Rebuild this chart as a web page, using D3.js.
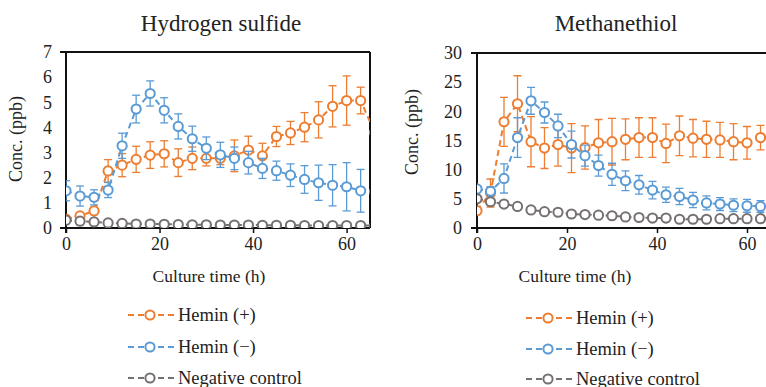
<!DOCTYPE html>
<html>
<head>
<meta charset="utf-8">
<script src="https://cdn.jsdelivr.net/npm/d3@7"></script>
<style>
  body { margin: 0; background: #fff; }
  svg { display: block; }
  svg text { font-family: "Liberation Serif", "Times New Roman", Times, "DejaVu Serif", serif; }
</style>
</head>
<body>
<svg id="chart" width="766" height="387"></svg>
<script>
// Sampling times (h)
const hoursH2S = [0, 3, 6, 9, 12, 15, 18, 21, 24, 27, 30, 33, 36, 39, 42, 45, 48, 51, 54, 57, 60, 63, 66];
const hoursMT = [0, 3, 6, 9, 12, 15, 18, 21, 24, 27, 30, 33, 36, 39, 42, 45, 48, 51, 54, 57, 60, 63];

// Hydrogen sulfide (ppb)
const h2sHeminPlus = [0.35, 0.48, 0.68, 2.27, 2.5, 2.73, 2.9, 2.95, 2.6, 2.77, 2.77, 2.77, 2.87, 3.1, 2.87, 3.64, 3.78, 4.01, 4.3, 4.84, 5.07, 5.07, 3.8];
const h2sHeminPlusErr = [0.1, 0.1, 0.15, 0.45, 0.46, 0.52, 0.53, 0.52, 0.55, 0.45, 0.3, 0.25, 0.63, 0.55, 0.5, 0.4, 0.46, 0.58, 0.72, 0.82, 0.98, 0.53, 0.5];
const h2sHeminMinus = [1.48, 1.27, 1.22, 1.51, 3.27, 4.73, 5.35, 4.68, 4.04, 3.55, 3.17, 2.91, 2.77, 2.6, 2.37, 2.28, 2.1, 1.93, 1.8, 1.7, 1.64, 1.48, 1.45];
const h2sHeminMinusErr = [0.4, 0.4, 0.3, 0.3, 0.5, 0.55, 0.5, 0.5, 0.5, 0.5, 0.45, 0.5, 0.45, 0.45, 0.4, 0.38, 0.45, 0.55, 0.7, 0.82, 0.96, 0.85, 0.8];
const h2sControl = [0.31, 0.27, 0.24, 0.2, 0.18, 0.16, 0.16, 0.15, 0.14, 0.13, 0.13, 0.12, 0.12, 0.12, 0.11, 0.11, 0.11, 0.1, 0.1, 0.1, 0.1, 0.1, 0.1];

// Methanethiol (ppb)
const mtHeminPlus = [2.97, 6.0, 18.2, 21.3, 14.8, 13.7, 14.3, 13.7, 13.8, 14.6, 14.8, 15.2, 15.5, 15.5, 14.5, 15.8, 15.4, 15.2, 15.1, 14.8, 14.6, 15.5];
const mtHeminPlusErr = [0.5, 2.4, 4.2, 4.8, 4.3, 3.5, 3.7, 4.2, 3.7, 4, 4, 3.5, 3.4, 3.4, 3.3, 3.4, 3.2, 3.1, 3.0, 3.1, 2.8, 2.1];
const mtHeminMinus = [6.7, 6.3, 8.5, 15.5, 21.8, 19.8, 17.5, 14.3, 12.4, 10.7, 9.2, 8.1, 7.4, 6.5, 5.7, 5.4, 4.8, 4.3, 4.1, 3.9, 3.8, 3.7];
const mtHeminMinusErr = [0.3, 0.8, 2.5, 3.4, 2.3, 1.8, 2, 2.3, 1.8, 1.8, 1.9, 1.7, 1.6, 1.5, 1.3, 1.4, 1.3, 1.2, 1.1, 1.1, 1.1, 1];
const mtControl = [5.0, 4.5, 4.1, 3.7, 3.1, 2.8, 2.7, 2.4, 2.3, 2.2, 2.1, 1.9, 1.8, 1.7, 1.7, 1.5, 1.5, 1.5, 1.6, 1.6, 1.6, 1.6];

const seriesNames = ['Hemin (+)', 'Hemin (\u2212)', 'Negative control'];
const seriesColors = ['#ED7D31', '#5B9BD5', '#767171'];
const xTicks = [0, 20, 40, 60];

const svg = d3.select('#chart');

// Build one panel
function drawPanel(opt) {
  const x = d3.scaleLinear().domain([0, 65]).range([opt.left, opt.right]);
  const y = d3.scaleLinear().domain([0, opt.yMax]).range([opt.bottom, opt.top]);
  const g = svg.append('g');

  g.append('clipPath').attr('id', opt.id + '-clip')
    .append('rect')
    .attr('x', opt.left).attr('y', opt.top - 10)
    .attr('width', opt.right - opt.left).attr('height', opt.bottom - opt.top + 10);

  // Title
  g.append('text')
    .attr('x', opt.titleX).attr('y', 31)
    .attr('text-anchor', 'middle')
    .attr('font-size', '23px')
    .attr('fill', '#222')
    .text(opt.title);

  // Y axis (labels only, no ticks)
  g.append('g')
    .attr('transform', `translate(${opt.left},0)`)
    .call(d3.axisLeft(y).tickValues(d3.range(0, opt.yMax + 0.001, opt.yStep))
      .tickFormat(d3.format('d')).tickSize(0).tickPadding(opt.yPad))
    .call(a => a.select('.domain').remove())
    .selectAll('text')
    .attr('font-size', '18px')
    .attr('fill', '#222');

  // X axis
  g.append('g')
    .attr('transform', `translate(0,${opt.bottom})`)
    .call(d3.axisBottom(x).tickValues(xTicks).tickFormat(d3.format('d'))
      .tickSize(5).tickPadding(4).tickSizeOuter(0))
    .call(a => a.select('.domain').remove())
    .call(a => a.selectAll('line').attr('stroke', '#111').attr('stroke-width', 1.5))
    .selectAll('text')
    .attr('font-size', '18px')
    .attr('fill', '#222');

  // Frame lines
  g.append('line').attr('x1', opt.left - 6).attr('x2', opt.right)
    .attr('y1', opt.top).attr('y2', opt.top)
    .attr('stroke', '#111').attr('stroke-width', 2);
  g.append('line').attr('x1', opt.left - 6).attr('x2', opt.right)
    .attr('y1', opt.bottom).attr('y2', opt.bottom)
    .attr('stroke', '#111').attr('stroke-width', 2);
  g.append('line').attr('x1', opt.left).attr('x2', opt.left)
    .attr('y1', opt.top).attr('y2', opt.bottom + 5)
    .attr('stroke', '#111').attr('stroke-width', 2);
  if (opt.rightBorder) {
    g.append('line').attr('x1', opt.right).attr('x2', opt.right)
      .attr('y1', opt.top).attr('y2', opt.bottom)
      .attr('stroke', '#111').attr('stroke-width', 2);
  }

  // Axis titles
  g.append('text')
    .attr('transform', `translate(${opt.yLabelX},${opt.yLabelY}) rotate(-90)`)
    .attr('text-anchor', 'middle')
    .attr('font-size', '18px')
    .attr('fill', '#222')
    .text('Conc. (ppb)');
  g.append('text')
    .attr('x', opt.xLabelX).attr('y', 282)
    .attr('text-anchor', 'middle')
    .attr('font-size', '17.5px')
    .attr('fill', '#222')
    .text('Culture time (h)');

  // Series
  const plot = g.append('g').attr('clip-path', `url(#${opt.id}-clip)`);
  const line = d3.line().x(d => x(d.t)).y(d => y(d.v));

  opt.series.forEach((s, si) => {
    const pts = opt.hours.map((t, i) => ({ t, v: s.values[i], e: s.errors ? s.errors[i] : 0 }));
    const sg = plot.append('g');
    const color = seriesColors[si];

    if (s.errors) {
      const eb = sg.selectAll('.err').data(pts).enter().append('g')
        .attr('stroke', color).attr('stroke-width', 1.3);
      eb.append('line')
        .attr('x1', d => x(d.t)).attr('x2', d => x(d.t))
        .attr('y1', d => y(d.v + d.e)).attr('y2', d => y(d.v - d.e));
      eb.append('line')
        .attr('x1', d => x(d.t) - 4).attr('x2', d => x(d.t) + 4)
        .attr('y1', d => y(d.v + d.e)).attr('y2', d => y(d.v + d.e));
      eb.append('line')
        .attr('x1', d => x(d.t) - 4).attr('x2', d => x(d.t) + 4)
        .attr('y1', d => y(d.v - d.e)).attr('y2', d => y(d.v - d.e));
    }

    sg.append('path')
      .datum(pts)
      .attr('d', line)
      .attr('fill', 'none')
      .attr('stroke', color)
      .attr('stroke-width', 2)
      .attr('stroke-dasharray', '6,4');

    sg.selectAll('circle').data(pts).enter().append('circle')
      .attr('cx', d => x(d.t)).attr('cy', d => y(d.v))
      .attr('r', 4.6)
      .attr('fill', '#fff')
      .attr('stroke', color)
      .attr('stroke-width', 2);
  });

  // Legend
  const lg = g.append('g');
  seriesNames.forEach((name, i) => {
    const ly = opt.legendY[i];
    lg.append('line')
      .attr('x1', opt.legendX).attr('x2', opt.legendX + 47)
      .attr('y1', ly).attr('y2', ly)
      .attr('stroke', seriesColors[i]).attr('stroke-width', 2)
      .attr('stroke-dasharray', '6,4');
    lg.append('circle')
      .attr('cx', opt.legendX + 22).attr('cy', ly).attr('r', 4.6)
      .attr('fill', '#fff').attr('stroke', seriesColors[i]).attr('stroke-width', 2);
    lg.append('text')
      .attr('x', opt.legendX + 50).attr('y', ly + 6)
      .attr('font-size', '18.5px')
      .attr('fill', '#222')
      .text(name);
  });
}

drawPanel({
  id: 'h2s', title: 'Hydrogen sulfide', titleX: 221,
  left: 66, right: 370, top: 52, bottom: 228, yMax: 7, yStep: 1, yPad: 14,
  rightBorder: true,
  yLabelX: 22, yLabelY: 139, xLabelX: 209,
  hours: hoursH2S,
  series: [
    { values: h2sHeminPlus, errors: h2sHeminPlusErr },
    { values: h2sHeminMinus, errors: h2sHeminMinusErr },
    { values: h2sControl }
  ],
  legendX: 128, legendY: [315, 347, 378]
});

drawPanel({
  id: 'mt', title: 'Methanethiol', titleX: 616,
  left: 477, right: 769.5, top: 53, bottom: 228, yMax: 30, yStep: 5, yPad: 15,
  rightBorder: false,
  yLabelX: 418, yLabelY: 132, xLabelX: 575,
  hours: hoursMT,
  series: [
    { values: mtHeminPlus, errors: mtHeminPlusErr },
    { values: mtHeminMinus, errors: mtHeminMinusErr },
    { values: mtControl }
  ],
  legendX: 526, legendY: [318, 349, 379]
});
</script>
</body>
</html>
